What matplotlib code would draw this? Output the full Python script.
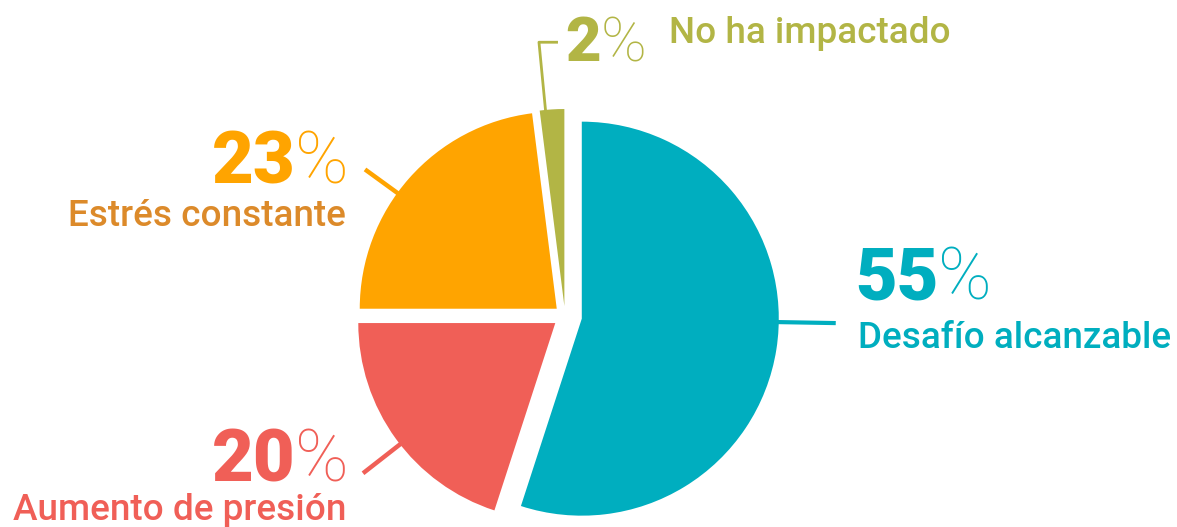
import numpy as np
import matplotlib
matplotlib.use("Agg")
import matplotlib.pyplot as plt

# Data (percent of answers), order = clockwise from 12 o'clock
labels = ["Desafío alcanzable", "Aumento de presión", "Estrés constante", "No ha impactado"]
values = [55, 20, 23, 2]
colors = ["#00AEBF", "#F05F57", "#FFA400", "#B2B545"]
text_colors = ["#00AEBF", "#F05F57", "#DC8A2A", "#B2B545"]
explode = [17, 12, 11, 10]   # pie offsets are in data units (pixels here)

W, H = 1177, 527
fig = plt.figure(figsize=(W / 100, H / 100), dpi=100)
ax = fig.add_axes([0, 0, 1, 1])

# work in pixel-like coordinates (y up)
wedges, _ = ax.pie(values, colors=colors, startangle=90, counterclock=False,
                   explode=explode, radius=197, center=(565, H - 316),
                   frame=True, wedgeprops=dict(linewidth=0))
ax.set_xlim(0, W)
ax.set_ylim(0, H)
ax.set_aspect("equal")
ax.axis("off")

# leader lines: angle on the wedge arc and extra length past it
leader_angle = [-1, 218, 144, 95.5]
leader_len = [57, 47, 40, 68]
leader_lw = [3, 3.2, 3.2, 2]
for w, a, L, lw, c in zip(wedges, leader_angle, leader_len, leader_lw, colors):
    cx, cy = w.center
    r = w.r
    t = np.deg2rad(a)
    xs = [cx + r * 0.96 * np.cos(t), cx + (r + L) * np.cos(t)]
    ys = [cy + r * 0.96 * np.sin(t), cy + (r + L) * np.sin(t)]
    if a > 90 and a < 100:
        xs.append(xs[-1] + 19)
        ys.append(ys[-1])
    ax.plot(xs, ys, color=c, lw=lw, solid_capstyle="butt", zorder=0)

FONT = "Roboto"
num_size = 52
small_num_size = 44.5
lab_size = 26.6


def percent_label(x, y, val, color, size, align="left"):
    # bold number followed by a thin percent sign, baseline at y
    if align == "left":
        t = ax.text(x, H - y, str(val), fontsize=size, fontweight="black",
                    family=FONT, color=color, ha="left", va="baseline")
        ax.annotate("%", xy=(1, 0), xycoords=t, fontsize=size, fontweight="light",
                    family=FONT, color=color, ha="left", va="bottom")
    else:
        p = ax.text(x, H - y, "%", fontsize=size, fontweight="light",
                    family=FONT, color=color, ha="right", va="baseline")
        ax.annotate(str(val), xy=(0, 0), xycoords=p, fontsize=size, fontweight="black",
                    family=FONT, color=color, ha="right", va="bottom")


# 55% desafío
percent_label(855, 300, values[0], text_colors[0], num_size)
ax.text(858, H - 348, labels[0], fontsize=lab_size, fontweight="medium", family=FONT,
        color=text_colors[0], ha="left", va="baseline")

# 20% aumento de presión
percent_label(349, 482, values[1], colors[1], num_size, align="right")
ax.text(346, H - 520, labels[1], fontsize=lab_size, fontweight="medium", family=FONT,
        color=text_colors[1], ha="right", va="baseline")

# 23% estrés
percent_label(349, 183, values[2], colors[2], num_size, align="right")
ax.text(346, H - 226, labels[2], fontsize=lab_size, fontweight="medium", family=FONT,
        color=text_colors[2], ha="right", va="baseline")

# 2% no ha impactado
percent_label(565, 61, values[3], text_colors[3], small_num_size)
ax.text(669, H - 43, labels[3], fontsize=lab_size, fontweight="medium", family=FONT,
        color=text_colors[3], ha="left", va="baseline")

fig.savefig("out.png", dpi=100, facecolor="white")
